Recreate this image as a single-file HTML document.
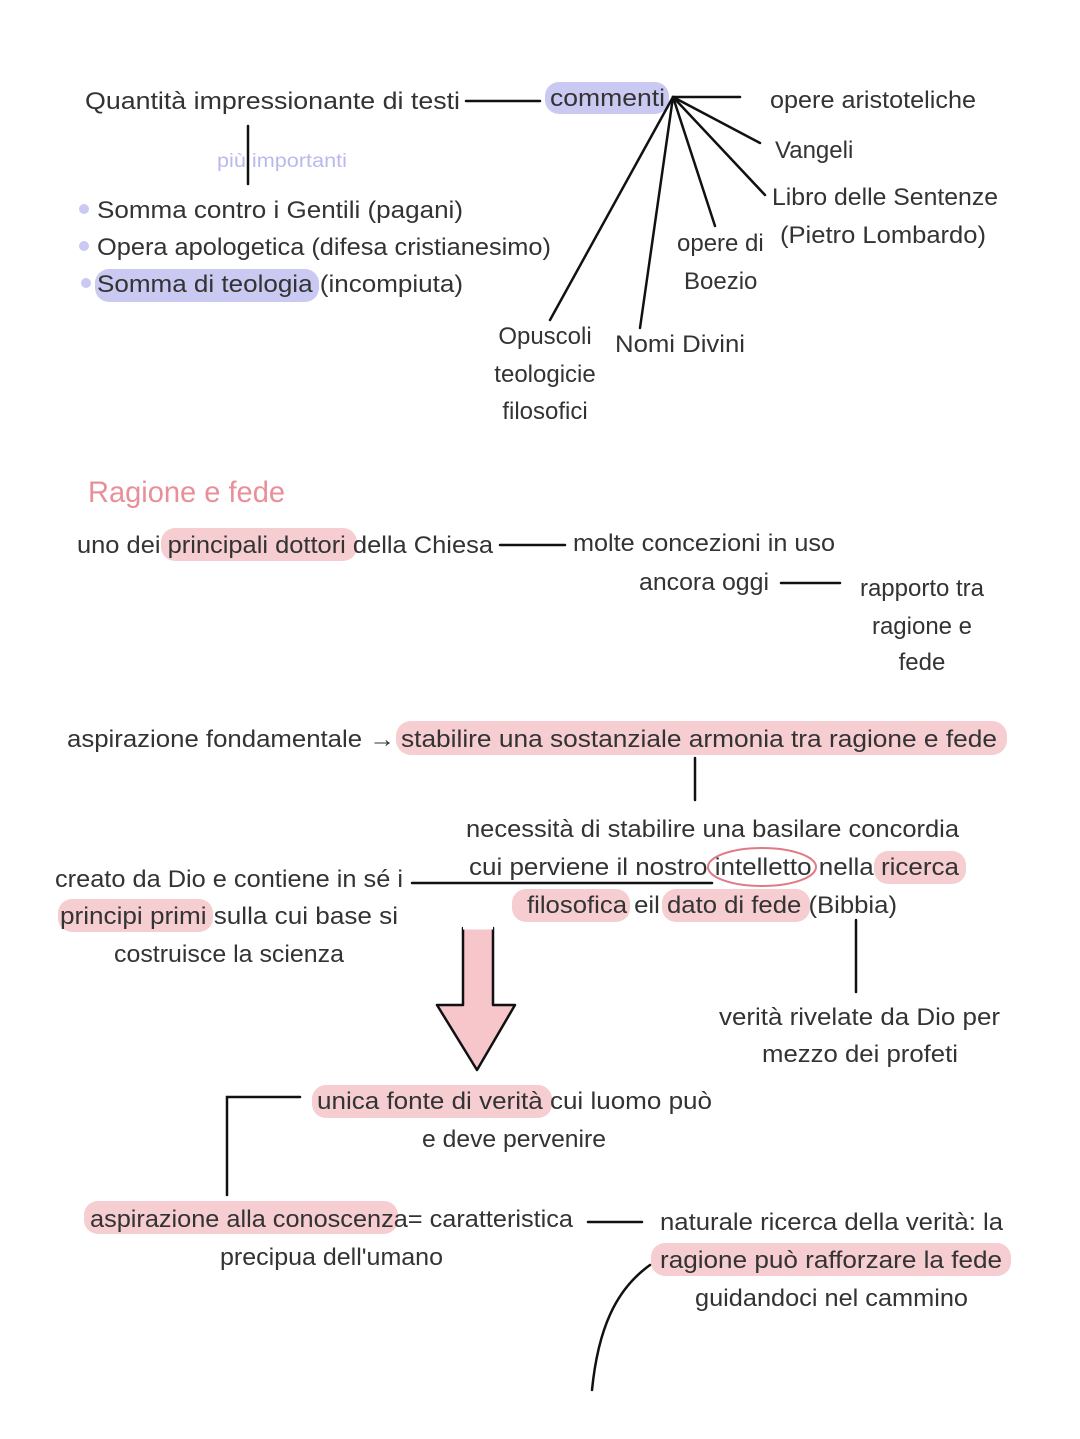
<!DOCTYPE html>
<html><head><meta charset="utf-8"><style>
html,body{margin:0;padding:0;background:#fff;}
svg{display:block;}
text{font-family:"Liberation Sans",sans-serif;font-size:24px;fill:#333;}
</style></head><body>
<svg width="1080" height="1439" viewBox="0 0 1080 1439" xmlns="http://www.w3.org/2000/svg">
<g fill="#c9c9f2">
<rect x="545" y="82" width="124" height="32" rx="14"/>
<rect x="95" y="269" width="224" height="33" rx="14"/>
<circle cx="84" cy="209" r="5"/><circle cx="84" cy="246" r="5"/><circle cx="86" cy="283" r="5"/>
</g>
<g fill="#f6cdd0">
<rect x="161" y="528" width="196" height="33" rx="14"/>
<rect x="396" y="721" width="611" height="34" rx="15"/>
<rect x="512" y="889" width="118" height="33" rx="14"/>
<rect x="662" y="889" width="148" height="33" rx="14"/>
<rect x="874" y="851" width="92" height="33" rx="14"/>
<rect x="58" y="899" width="155" height="33" rx="14"/>
<rect x="312" y="1085" width="240" height="33" rx="14"/>
<rect x="84" y="1201" width="314" height="33" rx="14"/>
<rect x="651" y="1243" width="360" height="33" rx="14"/>
</g>
<g stroke="#111" stroke-width="2.5" fill="none" stroke-linecap="round">
<line x1="466" y1="101" x2="540" y2="101"/>
<line x1="673" y1="97" x2="740" y2="97"/>
<line x1="673" y1="97" x2="760" y2="143"/>
<line x1="673" y1="97" x2="765" y2="195"/>
<line x1="673" y1="97" x2="715" y2="226"/>
<line x1="673" y1="97" x2="640" y2="328"/>
<line x1="673" y1="97" x2="550" y2="320"/>
<line x1="248" y1="126" x2="248" y2="184"/>
<line x1="500" y1="545" x2="565" y2="545"/>
<line x1="781" y1="583" x2="840" y2="583"/>
<line x1="695" y1="758" x2="695" y2="800"/>
<line x1="412" y1="883" x2="712" y2="883"/>
<line x1="856" y1="920" x2="856" y2="992"/>
<path d="M300 1097 H227 V1195"/>
<line x1="588" y1="1222" x2="642" y2="1222"/>
<path d="M650 1265 C615 1290 598 1330 592 1390"/>
</g>
<ellipse cx="762" cy="867" rx="54" ry="19" fill="none" stroke="#e07b86" stroke-width="2"/>
<path d="M463 928 H493 V1005 H515 L477 1070 L437 1005 H463 Z" fill="#f6c6ca" stroke="#111" stroke-width="2.5" stroke-linejoin="round"/>
<line x1="463" y1="928" x2="493" y2="928" stroke="#fff" stroke-width="3"/>
<text x="85" y="109" textLength="375" lengthAdjust="spacingAndGlyphs">Quantità impressionante di testi</text>
<text x="550" y="106" textLength="115" lengthAdjust="spacingAndGlyphs">commenti</text>
<text x="770" y="108" textLength="206" lengthAdjust="spacingAndGlyphs">opere aristoteliche</text>
<text x="775" y="158">Vangeli</text>
<text x="772" y="205" textLength="226" lengthAdjust="spacingAndGlyphs">Libro delle Sentenze</text>
<text x="780" y="243" textLength="206" lengthAdjust="spacingAndGlyphs">(Pietro Lombardo)</text>
<text x="677" y="251">opere di</text>
<text x="684" y="289">Boezio</text>
<text x="615" y="352" textLength="130" lengthAdjust="spacingAndGlyphs">Nomi Divini</text>
<text x="545" y="344" text-anchor="middle">Opuscoli</text>
<text x="545" y="382" text-anchor="middle">teologicie</text>
<text x="545" y="419" text-anchor="middle">filosofici</text>
<text x="217" y="167" style="font-size:19px;fill:#b9b9ee" textLength="130" lengthAdjust="spacingAndGlyphs">più importanti</text>
<text x="97" y="218" textLength="366" lengthAdjust="spacingAndGlyphs">Somma contro i Gentili (pagani)</text>
<text x="97" y="255" textLength="454" lengthAdjust="spacingAndGlyphs">Opera apologetica (difesa cristianesimo)</text>
<text x="97" y="292" textLength="366" lengthAdjust="spacingAndGlyphs">Somma di teologia (incompiuta)</text>
<text x="88" y="502" style="font-size:30px;fill:#e8909a" textLength="197" lengthAdjust="spacingAndGlyphs">Ragione e fede</text>
<text x="77" y="553" textLength="416" lengthAdjust="spacingAndGlyphs">uno dei principali dottori della Chiesa</text>
<text x="573" y="551" textLength="262" lengthAdjust="spacingAndGlyphs">molte concezioni in uso</text>
<text x="639" y="590" textLength="130" lengthAdjust="spacingAndGlyphs">ancora oggi</text>
<text x="922" y="596" text-anchor="middle">rapporto tra</text>
<text x="922" y="634" text-anchor="middle">ragione e</text>
<text x="922" y="670" text-anchor="middle">fede</text>
<text x="67" y="747" textLength="328" lengthAdjust="spacingAndGlyphs">aspirazione fondamentale →</text>
<text x="401" y="747" textLength="596" lengthAdjust="spacingAndGlyphs">stabilire una sostanziale armonia tra ragione e fede</text>
<text x="466" y="837" textLength="493" lengthAdjust="spacingAndGlyphs">necessità di stabilire una basilare concordia</text>
<text x="469" y="875" textLength="490" lengthAdjust="spacingAndGlyphs">cui perviene il nostro intelletto nella ricerca</text>
<text x="527" y="913" textLength="370" lengthAdjust="spacingAndGlyphs">filosofica eil dato di fede (Bibbia)</text>
<text x="55" y="887" textLength="348" lengthAdjust="spacingAndGlyphs">creato da Dio e contiene in sé i</text>
<text x="60" y="924" textLength="338" lengthAdjust="spacingAndGlyphs">principi primi sulla cui base si</text>
<text x="114" y="962" textLength="230" lengthAdjust="spacingAndGlyphs">costruisce la scienza</text>
<text x="719" y="1025" textLength="281" lengthAdjust="spacingAndGlyphs">verità rivelate da Dio per</text>
<text x="762" y="1062" textLength="196" lengthAdjust="spacingAndGlyphs">mezzo dei profeti</text>
<text x="317" y="1109" textLength="395" lengthAdjust="spacingAndGlyphs">unica fonte di verità cui luomo può</text>
<text x="422" y="1147" textLength="184" lengthAdjust="spacingAndGlyphs">e deve pervenire</text>
<text x="90" y="1227" textLength="483" lengthAdjust="spacingAndGlyphs">aspirazione alla conoscenza= caratteristica</text>
<text x="220" y="1265" textLength="223" lengthAdjust="spacingAndGlyphs">precipua dell'umano</text>
<text x="660" y="1230" textLength="343" lengthAdjust="spacingAndGlyphs">naturale ricerca della verità: la</text>
<text x="660" y="1268" textLength="342" lengthAdjust="spacingAndGlyphs">ragione può rafforzare la fede</text>
<text x="695" y="1306" textLength="273" lengthAdjust="spacingAndGlyphs">guidandoci nel cammino</text>
</svg>
</body></html>
